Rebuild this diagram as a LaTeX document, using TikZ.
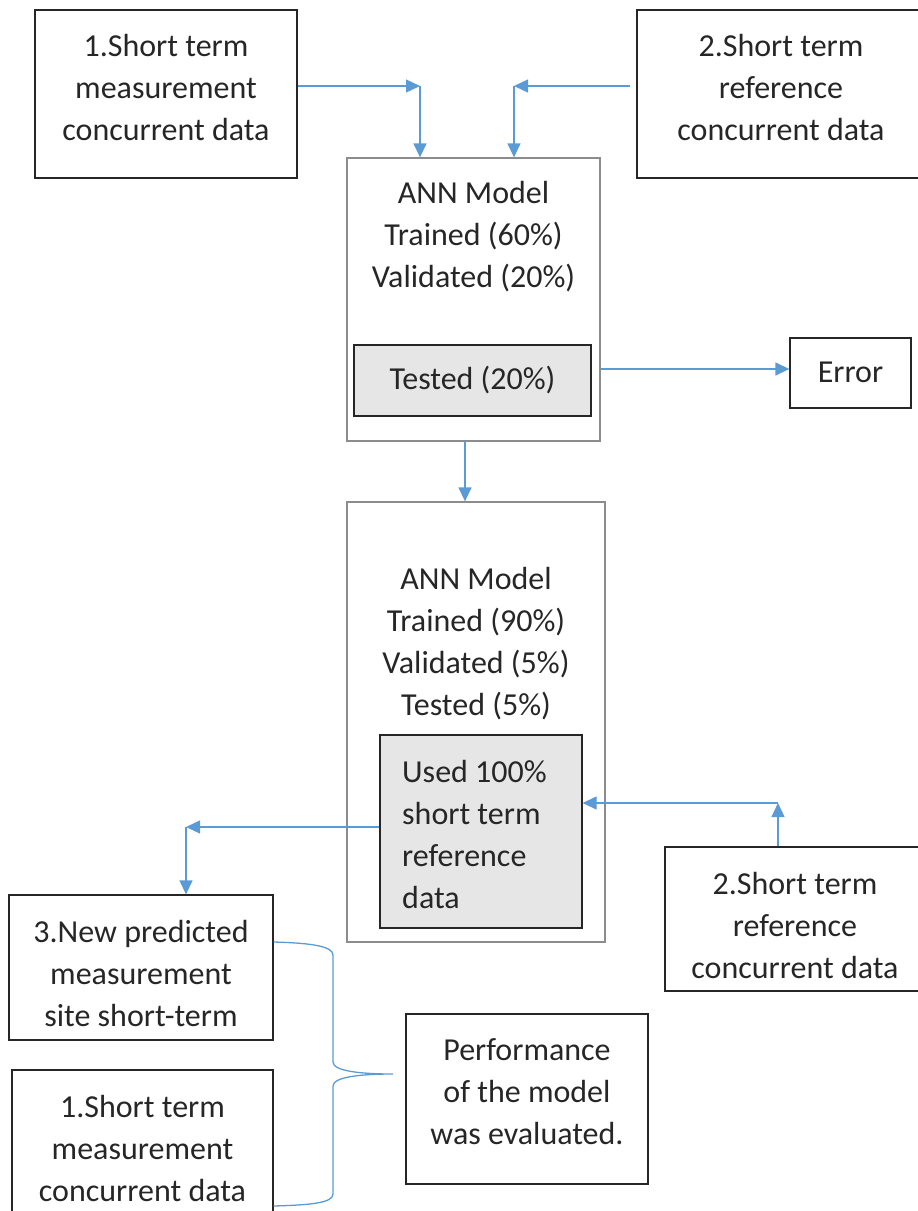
\documentclass[tikz,border=0pt]{standalone}
\usepackage{fontspec}
\setmainfont{Carlito}
\usepackage{xcolor}
\usetikzlibrary{arrows.meta}

\definecolor{arrowblue}{HTML}{5B9BD5}
\definecolor{inkgray}{HTML}{262626}
\definecolor{framegray}{HTML}{8C8C8C}
\definecolor{shadegray}{HTML}{E6E6E6}

\tikzset{
	databox/.style = {draw = inkgray, line width = 1.3pt, inner sep = 0pt},
	modelbox/.style = {draw = framegray, line width = 1.3pt, inner sep = 0pt},
	subbox/.style = {draw = inkgray, fill = shadegray, line width = 1.3pt, inner sep = 0pt},
	words/.style = {align = center, text = inkgray, inner sep = 0pt},
	link/.style = {draw = arrowblue, line width = 1.3pt, -{Triangle[length = 14pt, width = 13pt]}}
}

\begin{document}
\begin{tikzpicture}[x = 1pt, y = -1pt, font = \fontsize{32}{42}\selectfont]
		\useasboundingbox (0,0) rectangle (918,1211);
		\clip (0,0) rectangle (918,1211);
		
		% top inputs
		\node [databox, minimum width = 262, minimum height = 168] (meas top) at (166,94) {};
		\node [words] (meas top text) at (166,88) {1.Short term\\measurement\\concurrent data};
		\node [databox, minimum width = 288, minimum height = 168] (ref top) at (781,94) {};
		\node [words] (ref top text) at (781,88) {2.Short term\\reference\\concurrent data};
		
		% first model
		\node [modelbox, minimum width = 253, minimum height = 283] (model one) at (473.5,299.5) {};
		\node [words] (model one text) at (473.5,237) {ANN Model\\Trained (60\%)\\Validated (20\%)};
		\node [subbox, minimum width = 237, minimum height = 71] (tested) at (472.5,380.5) {};
		\node [words] (tested text) at (472.5,380) {Tested (20\%)};
		\node [databox, minimum width = 121, minimum height = 70] (error) at (850.5,373) {};
		\node [words] (error text) at (850.5,372) {Error};
		
		% second model
		\node [modelbox, minimum width = 258, minimum height = 440] (model two) at (476,722) {};
		\node [words] (model two text) at (476,643.5) {ANN Model\\Trained (90\%)\\Validated (5\%)\\Tested (5\%)};
		\node [subbox, minimum width = 202, minimum height = 193] (used) at (481,831.5) {};
		\node [words, align = left, anchor = west] (used text) at (402,834) {Used 100\%\\short term\\reference\\data};
		
		% outputs
		\node [databox, minimum width = 260, minimum height = 144] (ref bottom) at (795,919) {};
		\node [words] (ref bottom text) at (795,925) {2.Short term\\reference\\concurrent data};
		\node [databox, minimum width = 264, minimum height = 145] (predicted) at (141,967.5) {};
		\node [words] (predicted text) at (141,973) {3.New predicted\\measurement\\site short-term};
		\node [databox, minimum width = 261, minimum height = 150] (meas bottom) at (142.5,1145) {};
		\node [words] (meas bottom text) at (142.5,1148) {1.Short term\\measurement\\concurrent data};
		\node [databox, minimum width = 242, minimum height = 170] (performance) at (527,1099) {};
		\node [words] (performance text) at (527,1092) {Performance\\of the model\\was evaluated.};
		
		\coordinate (top left bend) at (420,86);
		\coordinate (top right bend) at (514,86);
		\coordinate (low left bend) at (186,827);
		\coordinate (low right bend) at (778,803);
		\coordinate (drop) at (465,441);
		
		\draw [link] (meas top.east |- top left bend) -- (top left bend);
		\draw [link] (top left bend) -- (top left bend |- model one.north);
		\draw [link, shorten < = 6pt] (ref top.west |- top right bend) -- (top right bend);
		\draw [link] (top right bend) -- (top right bend |- model one.north);
		\draw [link] (model one.east |- 0,369) -- (error.west |- 0,369);
		\draw [link] (drop) -- (drop |- model two.north);
		\draw [link] (used.west |- low left bend) -- (low left bend);
		\draw [link] (low left bend) -- (low left bend |- predicted.north);
		\draw [link] (ref bottom.north -| low right bend) -- (low right bend);
		\draw [link] (low right bend) -- (used.east |- low right bend);
		
		% brace
		\draw [arrowblue, line width = 1.3pt] (predicted.east |- 0,942) .. controls (310,943) and (333,946) .. (333,955) -- (333,1062) .. controls (333,1071) and (360,1074) .. (393,1074) .. controls (360,1074) and (333,1077) .. (333,1086) -- (333,1194) .. controls (333,1203) and (310,1205) .. (meas bottom.east |- 0,1206);
	\end{tikzpicture}
\end{document}
